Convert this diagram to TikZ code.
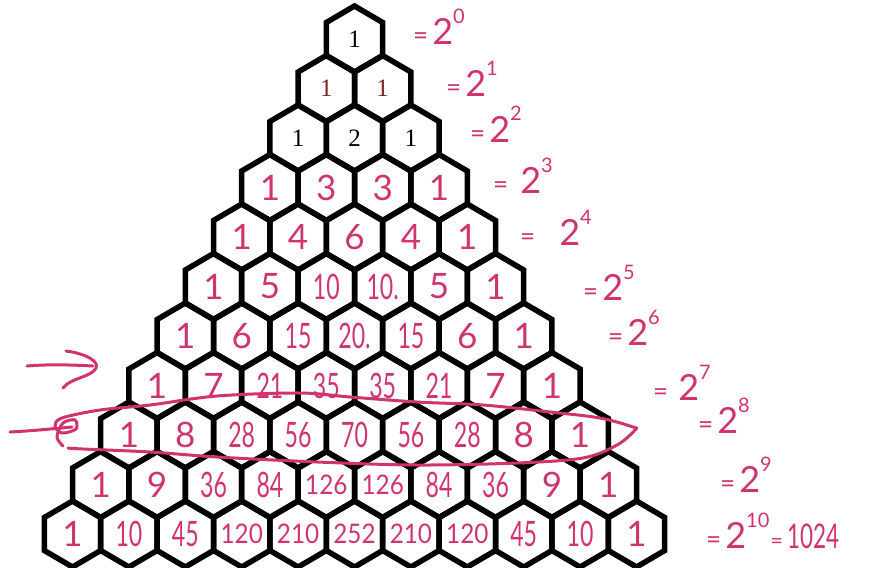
\documentclass[tikz,border=0pt]{standalone}
\usepackage{fontspec}
\usepackage{graphicx}
\setmainfont{Liberation Serif}
\newfontfamily\hand{Lato}
\newfontfamily\handc[FakeStretch=0.66]{Lato}
\newfontfamily\handt[FakeStretch=0.9]{Lato}
\definecolor{pk}{RGB}{208,52,110}
\definecolor{dred}{RGB}{125,35,35}
\tikzset{
  hexcell/.style={inner sep=0pt, outer sep=0pt},
  hexline/.style={draw=black, line width=5.5pt, line join=miter},
  serifnum/.style={font=\fontsize{25}{25}\selectfont, text=black},
  serifred/.style={font=\fontsize{25}{25}\selectfont, text=dred},
  one/.style={font=\hand\fontsize{35}{35}\selectfont, text=pk},
  two/.style={font=\handc\fontsize{35}{35}\selectfont, text=pk},
  three/.style={font=\handt\fontsize{27}{27}\selectfont, text=pk},
  lab/.style={anchor=base west, inner sep=0pt, font=\hand\fontsize{36}{36}\selectfont, text=pk},
  ink/.style={draw=pk, line width=3pt, line cap=round, line join=round},
}
\newcommand\hx[4]{\node[hexcell,#4] (h-#1-#2) at ({354.5+(#2-#1/2)*56.4},{39+49.5*#1}) {#3};}
\newcommand\pw[2][4pt]{{\fontsize{26}{26}\selectfont=}\hspace{#1}2\raisebox{21pt}{\fontsize{20}{20}\selectfont #2}}
\begin{document}
\begin{tikzpicture}[x=1pt,y=-1pt]
\useasboundingbox (0,0) rectangle (882,567);
\clip (0,0) rectangle (882,567);
% row 0-2 (typeset)
\hx{0}{0}{1}{serifnum}
\hx{1}{0}{1}{serifred}\hx{1}{1}{1}{serifred}
\hx{2}{0}{1}{serifnum}\hx{2}{1}{2}{serifnum}\hx{2}{2}{1}{serifnum}
% handwritten rows
\hx{3}{0}{1}{one}\hx{3}{1}{3}{one}\hx{3}{2}{3}{one}\hx{3}{3}{1}{one}
\hx{4}{0}{1}{one}\hx{4}{1}{4}{one}\hx{4}{2}{6}{one}\hx{4}{3}{4}{one}\hx{4}{4}{1}{one}
\hx{5}{0}{1}{one}\hx{5}{1}{5}{one}\hx{5}{2}{10}{two}\hx{5}{3}{10.}{two}\hx{5}{4}{5}{one}\hx{5}{5}{1}{one}
\hx{6}{0}{1}{one}\hx{6}{1}{6}{one}\hx{6}{2}{15}{two}\hx{6}{3}{20.}{two}\hx{6}{4}{15}{two}\hx{6}{5}{6}{one}\hx{6}{6}{1}{one}
\hx{7}{0}{1}{one}\hx{7}{1}{7}{one}\hx{7}{2}{21}{two}\hx{7}{3}{35}{two}\hx{7}{4}{35}{two}\hx{7}{5}{21}{two}\hx{7}{6}{7}{one}\hx{7}{7}{1}{one}
\hx{8}{0}{1}{one}\hx{8}{1}{8}{one}\hx{8}{2}{28}{two}\hx{8}{3}{56}{two}\hx{8}{4}{70}{two}\hx{8}{5}{56}{two}\hx{8}{6}{28}{two}\hx{8}{7}{8}{one}\hx{8}{8}{1}{one}
\hx{9}{0}{1}{one}\hx{9}{1}{9}{one}\hx{9}{2}{36}{two}\hx{9}{3}{84}{two}\hx{9}{4}{126}{three}\hx{9}{5}{126}{three}\hx{9}{6}{84}{two}\hx{9}{7}{36}{two}\hx{9}{8}{9}{one}\hx{9}{9}{1}{one}
\hx{10}{0}{1}{one}\hx{10}{1}{10}{two}\hx{10}{2}{45}{two}\hx{10}{3}{120}{three}\hx{10}{4}{210}{three}\hx{10}{5}{252}{three}\hx{10}{6}{210}{three}\hx{10}{7}{120}{three}\hx{10}{8}{45}{two}\hx{10}{9}{10}{two}\hx{10}{10}{1}{one}
% hexagon outlines
\foreach \r in {0,...,10}{\foreach \k in {0,...,\r}{
  \draw[hexline] (h-\r-\k.center) ++(0,-33) -- ++(28.2,16.5) -- ++(0,33) -- ++(-28.2,16.5) -- ++(-28.2,-16.5) -- ++(0,-33) -- cycle;
}}
% powers of two
\node[lab] (p0) at (413,45) {\pw{0}};
\node[lab] (p1) at (446,97) {\pw{1}};
\node[lab] (p2) at (470,142) {\pw{2}};
\node[lab] (p3) at (493,193) {\pw[12pt]{3}};
\node[lab] (p4) at (520,245) {\pw[24pt]{4}};
\node[lab] (p5) at (583,300) {\pw{5}};
\node[lab] (p6) at (608,345) {\pw{6}};
\node[lab] (p7) at (653,400) {\pw[10pt]{7}};
\node[lab] (p8) at (698,433) {\pw{8}};
\node[lab] (p9) at (720,492) {\pw{9}};
\node[lab] (p10) at (706,548) {\pw{10}\hspace{1pt}{\fontsize{22}{22}\selectfont=}\hspace{4pt}{\handc\fontsize{34}{34}\selectfont 1024}};
% hand-drawn arrows
\coordinate (a1s) at (27,366);
\coordinate (a1e) at (93,366);
\draw[ink] (a1s) .. controls (50,364) and (75,365) .. (a1e);
\draw[ink] (66,351) .. controls (88,354) and (99,362) .. (96,368) .. controls (92,377) and (70,378) .. (63,388);
\coordinate (a2s) at (10,432);
\coordinate (a2e) at (72,427);
\draw[ink] (a2s) .. controls (30,431) and (50,429) .. (a2e);
% loop around row 8
\draw[ink] plot[smooth, tension=0.55] coordinates {(68,448) (83,449) (150,452) (217,457) (317,462) (417,465) (517,463) (583,458) (617,445) (635,430) (633,427) (600,418) (550,412) (483,405) (417,402) (350,397) (300,393) (217,396) (150,405) (100,410) (62,418) (55,426) (62,433) (76,429) (75,420) (63,423) (57,437) (63,446)};
\end{tikzpicture}
\end{document}
